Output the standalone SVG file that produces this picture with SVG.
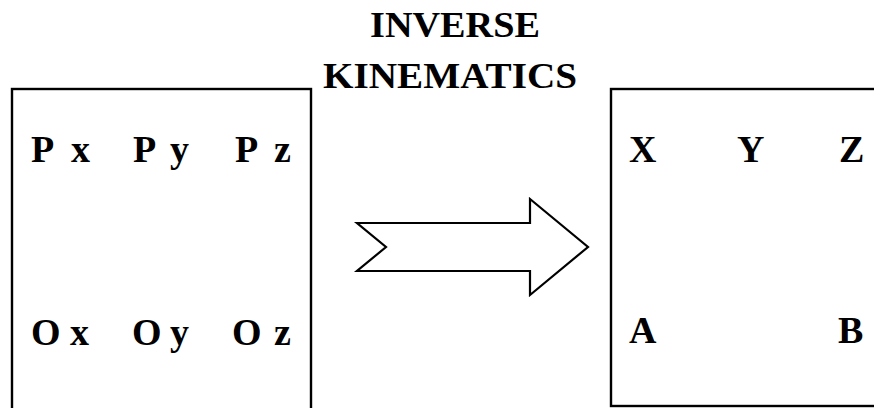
<svg xmlns="http://www.w3.org/2000/svg" width="874" height="408" viewBox="0 0 874 408">
<style>
.box{fill:#fff;stroke:#000;stroke-width:2.4}
.lbl{font-family:"Liberation Serif","Times New Roman",serif;font-weight:bold;font-size:38px;fill:#000}
.ttl{font-family:"Liberation Serif","Times New Roman",serif;font-weight:bold;font-size:35px;fill:#000}
.arrow{fill:#fff;stroke:#000;stroke-width:2.2;stroke-linejoin:miter}
</style>
<rect width="874" height="408" fill="#fff"/>
<g id="title">
<text class="ttl" x="370" y="37" textLength="170" lengthAdjust="spacingAndGlyphs">INVERSE</text>
<text class="ttl" x="323" y="88" textLength="254" lengthAdjust="spacingAndGlyphs">KINEMATICS</text>
</g>
<g id="input-box">
<rect class="box" x="12" y="89" width="299" height="330"/>
<text class="lbl" y="162"><tspan x="31">P</tspan><tspan x="71">x</tspan><tspan x="133">P</tspan><tspan x="170">y</tspan><tspan x="235">P</tspan><tspan x="274">z</tspan></text>
<text class="lbl" y="345"><tspan x="31">O</tspan><tspan x="70">x</tspan><tspan x="132">O</tspan><tspan x="170">y</tspan><tspan x="232">O</tspan><tspan x="274">z</tspan></text>
</g>
<g id="output-box">
<rect class="box" x="611" y="89" width="280" height="317"/>
<text class="lbl" y="162"><tspan x="629">X</tspan><tspan x="737">Y</tspan><tspan x="839">Z</tspan></text>
<text class="lbl" y="343"><tspan x="629">A</tspan><tspan x="838">B</tspan></text>
</g>
<g id="connectors">
<polygon class="arrow" points="357,223 530,223 530,199 588,247 530,295 530,271 357,271 386,247"/>
</g>
</svg>
